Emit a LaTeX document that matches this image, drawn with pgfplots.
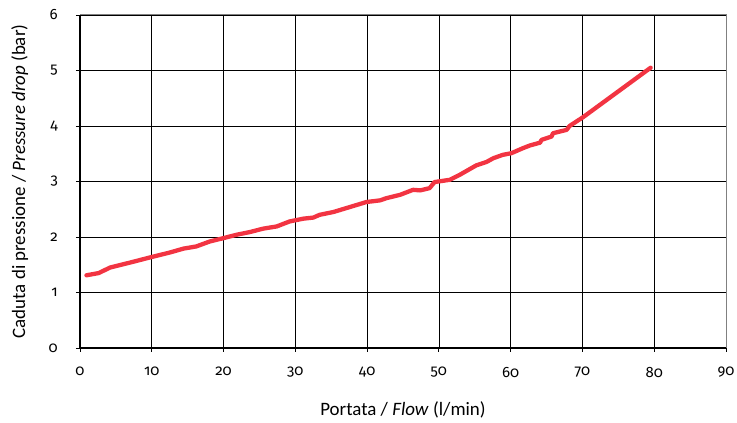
\documentclass[border=0pt]{standalone}
\usepackage{pgfplots}
\pgfplotsset{compat=1.18}
\usepackage{fontspec}
\setmainfont{Carlito}
\newfontfamily\tickfont{Fira Sans}[Numbers=OldStyle]
\definecolor{curve}{RGB}{242,52,66}

\begin{document}
\begin{tikzpicture}
\begin{axis}[
    scale only axis,
    width=646bp, height=333bp,
    xmin=0, xmax=90, ymin=0, ymax=6,
    xtick={0,10,...,90}, ytick={0,1,...,6},
    /pgf/number format/assume math mode=true,
    tick label style={font=\tickfont\fontsize{15}{17}\selectfont, inner sep=0pt},
    label style={font=\fontsize{19}{21}\selectfont},
    xlabel={Portata / \textit{Flow} (l/min)},
    ylabel={Caduta di pressione / \textit{Pressure drop} (bar)},
    xlabel style={at={(axis description cs:0.5,-0.204)}, anchor=base},
    ylabel style={at={(axis description cs:-0.085,0.5)}, anchor=base},
    grid=major,
    major grid style={black, line width=0.7pt},
    axis line style={gray, line width=1pt},
    tick style={black, line width=0.9pt},
    tick align=outside,
    major tick length=4bp,
    xtick pos=bottom, ytick pos=left,
    xticklabel style={anchor=north, yshift=-15bp},
    yticklabel style={anchor=east, xshift=-18bp},
    clip=false,
]
\addplot[curve, line width=4.3pt, line cap=round, line join=round] coordinates {
(0.9,1.31) (2.6,1.35) (4.2,1.45) (7.0,1.54) (9.7,1.63) (12.5,1.72)
(14.4,1.79) (16.2,1.83) (18.1,1.92) (20.0,1.98) (21.8,2.04) (23.7,2.09)
(25.5,2.15) (27.4,2.19) (29.2,2.28) (31.1,2.33) (32.5,2.35) (33.4,2.40)
(35.3,2.45) (37.6,2.54) (39.9,2.63) (41.8,2.66) (42.7,2.70) (44.6,2.76)
(46.4,2.85) (47.4,2.84) (48.7,2.88) (49.4,2.99) (51.5,3.03) (52.9,3.12)
(55.2,3.29) (56.6,3.35) (57.6,3.42) (58.9,3.48) (60.1,3.51) (61.7,3.60)
(62.7,3.65) (64.1,3.70) (64.3,3.75) (65.7,3.81) (65.9,3.87) (67.8,3.93)
(68.2,4.00) (70.1,4.16) (79.5,5.05)
};
\draw[black, line width=2.2pt] (axis cs:0,6) -- (axis cs:0,0) -- (axis cs:90,0);
\coordinate (o) at (axis cs:0,0);
\coordinate (t) at (axis cs:90,6);
\end{axis}
\pgfresetboundingbox
\path[use as bounding box] ([shift={(-80bp,-75bp)}]o) rectangle ([shift={(11bp,15bp)}]t);
\end{tikzpicture}
\end{document}
